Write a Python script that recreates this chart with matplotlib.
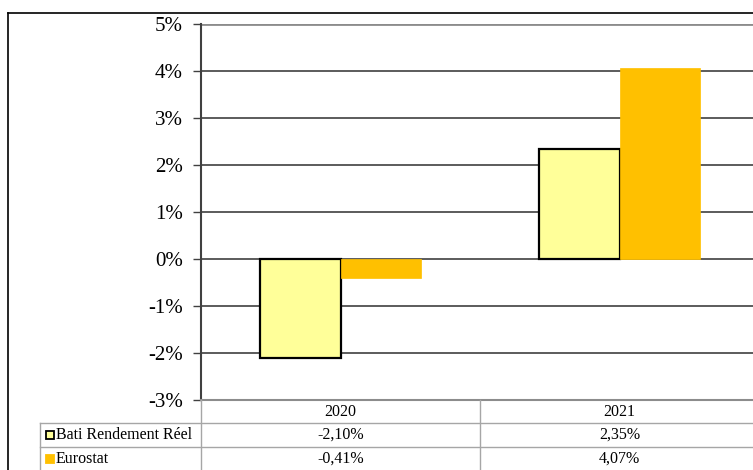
import matplotlib.pyplot as plt
from matplotlib.lines import Line2D
from matplotlib.patches import Rectangle

years = ['2020', '2021']
series_names = ['Bati Rendement Réel', 'Eurostat']
bati = [-2.10, 2.35]
eurostat = [-0.41, 4.07]
bati_labels = ['-2,10%', '2,35%']
eurostat_labels = ['-0,41%', '4,07%']
yticks = [-3, -2, -1, 0, 1, 2, 3, 4, 5]

yellow = '#FFFF99'
orange = '#FFC000'
grid_c = '#404040'
table_c = '#a6a6a6'

plt.rcParams['font.family'] = ['Liberation Serif', 'DejaVu Serif']

W, H = 753, 470
fig = plt.figure(figsize=(W / 100, H / 100), dpi=100)

# plot area (pixels measured on the reference, right part is cut off)
left, top, bottom, right = 201, 24, 400, 759
ax = fig.add_axes([left / W, 1 - bottom / H, (right - left) / W, (bottom - top) / H])

x = list(range(len(years)))
bw = 0.287
ax.bar([i - bw / 2 for i in x], bati, bw, color=yellow, edgecolor='black', linewidth=1.6, zorder=3)
ax.bar([i + bw / 2 for i in x], eurostat, bw, color=orange, edgecolor=orange, linewidth=0.5, zorder=3)

ax.set_xlim(-0.5, len(years) - 0.5)
ax.set_ylim(-3, 5)
ax.set_yticks(yticks)
ax.set_yticklabels([f'{t}%' for t in yticks], fontsize=15)
ax.set_xticks([])
ax.tick_params(axis='y', length=6, width=1, color=grid_c, pad=7)
for t in yticks[1:-1]:
    ax.axhline(t, color=grid_c, linewidth=1.2, zorder=1)
ax.axhline(5, color='#8c8c8c', linewidth=2, zorder=1)
for s in ['top', 'right']:
    ax.spines[s].set_visible(False)
ax.spines['bottom'].set_color('#8c8c8c')
ax.spines['bottom'].set_linewidth(1.5)
ax.spines['left'].set_color(grid_c)
ax.spines['left'].set_linewidth(1.5)

# data table under the plot
rows = [423, 447, 471]
lab_left = 40


def fx(px):
    return px / W


def fy(py):
    return 1 - py / H


col_edges = [left + (right - left) * i / len(years) for i in range(len(years) + 1)]
for xe in col_edges:
    fig.add_artist(Line2D([fx(xe)] * 2, [fy(bottom), fy(rows[-1])], color=table_c, lw=1))
fig.add_artist(Line2D([fx(lab_left)] * 2, [fy(rows[0]), fy(rows[-1])], color=table_c, lw=1))
fig.add_artist(Line2D([fx(lab_left), fx(right)], [fy(rows[0])] * 2, color=table_c, lw=1))
fig.add_artist(Line2D([fx(lab_left), fx(right)], [fy(rows[1])] * 2, color=table_c, lw=1))

fs = 11.5
for i, yr in enumerate(years):
    cx = fx((col_edges[i] + col_edges[i + 1]) / 2)
    fig.text(cx, fy((bottom + rows[0]) / 2), yr, ha='center', va='center', fontsize=fs)
    fig.text(cx, fy((rows[0] + rows[1]) / 2), bati_labels[i], ha='center', va='center', fontsize=fs)
    fig.text(cx, fy((rows[1] + rows[2]) / 2), eurostat_labels[i], ha='center', va='center', fontsize=fs)

keys = [(yellow, 'black'), (orange, orange)]
for j, name in enumerate(series_names):
    cy = (rows[j] + rows[j + 1]) / 2
    fig.add_artist(Rectangle((fx(46), fy(cy + 4)), 8 / W, 8 / H, facecolor=keys[j][0],
                             edgecolor=keys[j][1], lw=1.3))
    fig.text(fx(56), fy(cy), name, ha='left', va='center', fontsize=fs)

# outer chart border
fig.add_artist(Line2D([fx(8), fx(8)], [fy(13), 0], color='black', lw=1.2))
fig.add_artist(Line2D([fx(8), 1], [fy(13), fy(13)], color='black', lw=1.2))

fig.savefig('out.png', dpi=100)
